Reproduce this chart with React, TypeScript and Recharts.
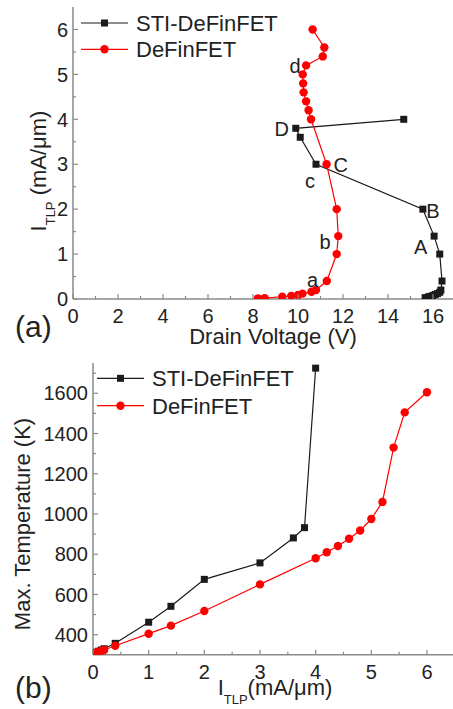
import { ScatterChart, Scatter, XAxis, YAxis, ReferenceDot } from "recharts";

// (a) drain voltage (V) vs I_TLP (mA/um)
const stiVoltage = [15.65, 15.8, 15.9, 16.0, 16.1, 16.2, 16.3, 16.35, 16.4, 16.3, 16.05, 15.55, 10.8, 10.1, 9.9, 14.7];
const stiCurrentA = [0.03, 0.05, 0.06, 0.08, 0.1, 0.12, 0.15, 0.2, 0.4, 1.0, 1.4, 2.0, 3.0, 3.6, 3.8, 4.0];
const deVoltage = [8.22, 8.52, 9.3, 9.7, 10.0, 10.2, 10.6, 10.8, 11.28, 11.72, 11.79, 11.72, 11.27, 10.58, 10.47, 10.36, 10.25, 10.23, 10.21, 10.36, 11.1, 11.17, 10.65];
const deCurrentA = [0.015, 0.02, 0.05, 0.07, 0.09, 0.12, 0.16, 0.2, 0.4, 1.0, 1.4, 2.0, 3.0, 4.0, 4.2, 4.4, 4.6, 4.8, 5.0, 5.2, 5.4, 5.6, 6.0];

// (b) I_TLP (mA/um) vs max temperature (K)
const stiCurrentB = [0.03, 0.06, 0.1, 0.15, 0.2, 0.4, 1.0, 1.4, 2.0, 3.0, 3.6, 3.8, 4.0];
const stiTemp = [308, 313, 318, 324, 330, 357, 462, 541, 675, 757, 881, 932, 1725];
const deCurrentB = [0.02, 0.05, 0.09, 0.12, 0.16, 0.2, 0.4, 1.0, 1.4, 2.0, 3.0, 4.0, 4.2, 4.4, 4.6, 4.8, 5.0, 5.2, 5.4, 5.6, 6.0];
const deTemp = [306, 309, 313, 316, 320, 324, 345, 405, 445, 518, 650, 780, 810, 841, 877, 918, 975, 1060, 1330, 1505, 1605];

const seriesNames = ["STI-DeFinFET", "DeFinFET"];

// point annotations of panel (a), anchored in data units
const annotText = ["a", "b", "c", "d", "A", "B", "C", "D"];
const annotV = [10.65, 11.2, 10.53, 9.87, 15.45, 16.0, 11.9, 9.28];
const annotI = [0.42, 1.27, 2.64, 5.18, 1.16, 1.96, 2.98, 3.79];

// ticks
const ticksVa = [0, 1, 2, 3, 4, 5, 6, 7, 8, 9, 10, 11, 12, 13, 14, 15, 16];
const ticksIa = [0, 0.5, 1, 1.5, 2, 2.5, 3, 3.5, 4, 4.5, 5, 5.5, 6];
const ticksIb = [0, 0.5, 1, 1.5, 2, 2.5, 3, 3.5, 4, 4.5, 5, 5.5, 6];
const ticksTb = [400, 500, 600, 700, 800, 900, 1000, 1100, 1200, 1300, 1400, 1500, 1600, 1700];

const FONT = '"Liberation Sans", Arial, sans-serif';
const AXIS = "#8a8a8a";
const INK = "#222";
const BLACK = "#1b1b1b";
const RED = "#ff0000";

const zip = (xs: number[], ys: number[]) => xs.map((x, i) => ({ x, y: ys[i] }));

function makeTick(side: "bottom" | "top" | "left", isMajor: (v: number) => boolean, gap: number) {
  return function Tick(props: any) {
    const { x, y, payload } = props;
    const v = payload.value;
    const major = isMajor(v);
    const len = major ? 5 : 3;
    if (side === "top") {
      return <line x1={x} y1={y} x2={x} y2={y + len} stroke={AXIS} strokeWidth={1.2} />;
    }
    if (side === "left") {
      return (
        <g>
          <line x1={x} y1={y} x2={x + len} y2={y} stroke={AXIS} strokeWidth={1.2} />
          {major && (
            <text x={x - gap} y={y} dy="0.36em" textAnchor="end" fontSize={20} fill={INK} fontFamily={FONT}>
              {v}
            </text>
          )}
        </g>
      );
    }
    return (
      <g>
        <line x1={x} y1={y} x2={x} y2={y - len} stroke={AXIS} strokeWidth={1.2} />
        {major && (
          <text x={x} y={y + gap} textAnchor="middle" fontSize={20} fill={INK} fontFamily={FONT}>
            {v}
          </text>
        )}
      </g>
    );
  };
}

const Square = (p: any) => <rect x={p.cx - 3.5} y={p.cy - 3.5} width={7} height={7} fill={BLACK} />;
const Dot = (p: any) => <circle cx={p.cx} cy={p.cy} r={4.2} fill={RED} />;

const isInt = (v: number) => Math.abs(v - Math.round(v)) < 1e-6;
const isEven = (v: number) => isInt(v) && Math.round(v) % 2 === 0;

function LegendRows({ x0, y0, dy }: { x0: number; y0: number; dy: number }) {
  return (
    <g fontFamily={FONT} fontSize={22} fill={INK}>
      {seriesNames.map((name, i) => {
        const y = y0 + i * dy;
        const c = i === 0 ? BLACK : RED;
        return (
          <g key={name}>
            <line x1={x0} y1={y} x2={x0 + 47} y2={y} stroke={c} strokeWidth={1.2} />
            {i === 0 ? (
              <rect x={x0 + 23.5 - 3.5} y={y - 3.5} width={7} height={7} fill={c} />
            ) : (
              <circle cx={x0 + 23.5} cy={y} r={4.2} fill={c} />
            )}
            <text x={x0 + 55} y={y + 8}>{name}</text>
          </g>
        );
      })}
    </g>
  );
}

export default function App() {
  const stiA = zip(stiVoltage, stiCurrentA);
  const deA = zip(deVoltage, deCurrentA);
  const stiB = zip(stiCurrentB, stiTemp);
  const deB = zip(deCurrentB, deTemp);

  return (
    <div style={{ position: "absolute", left: 0, top: 0, width: 453, height: 709, overflow: "hidden", background: "#fff" }}>
      <div style={{ position: "absolute", left: 0, top: 0 }}>
        <ScatterChart width={470} height={350} margin={{ top: 7, right: 14.5, bottom: 0, left: 0 }}>
          <XAxis
            dataKey="x"
            type="number"
            domain={[0, 17]}
            ticks={ticksVa}
            interval={0}
            height={51}
            tickSize={0}
            tickMargin={0}
            axisLine={{ stroke: AXIS, strokeWidth: 1.5 }}
            tickLine={false}
            tick={makeTick("bottom", isEven, 23.5)}
            allowDataOverflow
          />
          <XAxis
            xAxisId="top"
            orientation="top"
            type="number"
            domain={[0, 17]}
            ticks={ticksVa}
            interval={0}
            height={0}
            tickSize={0}
            tickMargin={0}
            axisLine={{ stroke: AXIS, strokeWidth: 1.5 }}
            tickLine={false}
            tick={makeTick("top", isEven, 0)}
            allowDataOverflow
          />
          <YAxis
            dataKey="y"
            type="number"
            domain={[0, 6.5]}
            ticks={ticksIa}
            interval={0}
            width={73}
            tickSize={0}
            tickMargin={0}
            axisLine={{ stroke: AXIS, strokeWidth: 1.5 }}
            tickLine={false}
            tick={makeTick("left", isInt, 5)}
            allowDataOverflow
          />
          <Scatter
            name={seriesNames[0]}
            data={stiA}
            fill={BLACK}
            line={{ stroke: BLACK, strokeWidth: 1.2 }}
            lineType="joint"
            shape={Square}
            isAnimationActive={false}
          />
          <Scatter
            name={seriesNames[1]}
            data={deA}
            fill={RED}
            line={{ stroke: RED, strokeWidth: 1.2 }}
            lineType="joint"
            shape={Dot}
            isAnimationActive={false}
          />
          {annotText.map((t, i) => (
            <ReferenceDot
              key={t + i}
              x={annotV[i]}
              y={annotI[i]}
              r={0}
              fill="none"
              stroke="none"
              ifOverflow="visible"
              label={{ value: t, position: "center", fontSize: 20, fill: INK, fontFamily: FONT }}
            />
          ))}
        </ScatterChart>
      </div>

      <div style={{ position: "absolute", left: 0, top: 340 }}>
        <ScatterChart width={470} height={369} margin={{ top: 23.1, right: 15.2, bottom: 0, left: 0 }}>
          <XAxis
            dataKey="x"
            type="number"
            domain={[0, 6.5]}
            ticks={ticksIb}
            interval={0}
            height={54.2}
            tickSize={0}
            tickMargin={0}
            axisLine={{ stroke: AXIS, strokeWidth: 1.5 }}
            tickLine={false}
            tick={makeTick("bottom", isInt, 24.5)}
            allowDataOverflow
          />
          <XAxis
            xAxisId="top"
            orientation="top"
            type="number"
            domain={[0, 6.5]}
            ticks={ticksIb}
            interval={0}
            height={0}
            tickSize={0}
            tickMargin={0}
            axisLine={{ stroke: AXIS, strokeWidth: 1.5 }}
            tickLine={false}
            tick={makeTick("top", isInt, 0)}
            allowDataOverflow
          />
          <YAxis
            dataKey="y"
            type="number"
            domain={[300, 1750]}
            ticks={ticksTb}
            interval={0}
            width={93}
            tickSize={0}
            tickMargin={0}
            axisLine={{ stroke: AXIS, strokeWidth: 1.5 }}
            tickLine={false}
            tick={makeTick("left", (v) => v % 200 === 0, 5)}
            allowDataOverflow
          />
          <Scatter
            name={seriesNames[0]}
            data={stiB}
            fill={BLACK}
            line={{ stroke: BLACK, strokeWidth: 1.2 }}
            lineType="joint"
            shape={Square}
            isAnimationActive={false}
          />
          <Scatter
            name={seriesNames[1]}
            data={deB}
            fill={RED}
            line={{ stroke: RED, strokeWidth: 1.2 }}
            lineType="joint"
            shape={Dot}
            isAnimationActive={false}
          />
        </ScatterChart>
      </div>

      <svg width={453} height={709} style={{ position: "absolute", left: 0, top: 0, pointerEvents: "none" }}>
        <LegendRows x0={81} y0={23} dy={26.3} />
        <LegendRows x0={97} y0={378.3} dy={27.4} />
        <g fontFamily={FONT} fill={INK}>
          <text x={273} y={344} fontSize={22} textAnchor="middle">Drain Voltage (V)</text>
          <text transform="translate(46,171) rotate(-90)" fontSize={22} textAnchor="middle">
            I<tspan fontSize={13} dy={9}>TLP</tspan>
            <tspan dy={-9}> (mA/μm)</tspan>
          </text>
          <text x={275} y={695} fontSize={22} textAnchor="middle">
            I<tspan fontSize={13} dy={9}>TLP</tspan>
            <tspan dy={-9}>(mA/μm)</tspan>
          </text>
          <text transform="translate(30,524) rotate(-90)" fontSize={22} textAnchor="middle">Max. Temperature (K)</text>
          <text x={15} y={337} fontSize={30}>(a)</text>
          <text x={15} y={698} fontSize={30}>(b)</text>
        </g>
      </svg>
    </div>
  );
}
